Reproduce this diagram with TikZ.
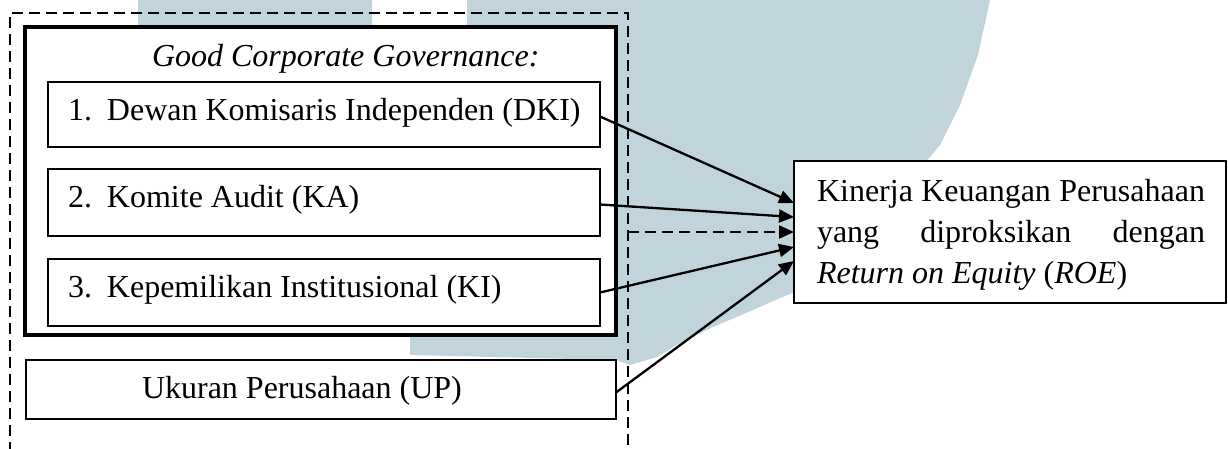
\documentclass[tikz,border=0pt]{standalone}
\usepackage{fontspec}
\setmainfont{Liberation Serif}
\usetikzlibrary{arrows.meta,calc}
\definecolor{wm}{RGB}{194,212,219}
\begin{document}
\begin{tikzpicture}[x=1pt,y=-1pt,
  every node/.style={font=\fontsize{32}{41}\selectfont, inner sep=0pt, outer sep=0pt},
  thinbox/.style={draw, line width=1.7pt, fill=white, rectangle, anchor=north west},
  thickbox/.style={draw, line width=4.5pt, fill=white, rectangle, anchor=north west},
  outerbox/.style={draw, line width=2.1pt, dash pattern=on 11pt off 6pt, rectangle, anchor=north west},
  txt/.style={anchor=base west},
  arr/.style={line width=2.3pt, -{Triangle[length=15pt,width=13pt]}},
  darr/.style={arr, dash pattern=on 11pt off 6pt}]
\useasboundingbox (0,0) rectangle (1228,448);
% watermark
\fill[wm] (138,0) -- (372,0) -- (372,30) -- (467,30) -- (467,0) -- (990,0) -- (978,55)
  -- (960,105) -- (940,145) -- (915,175) -- (800,290) -- (780,298) -- (753,310)
  -- (713,327) -- (680,343) -- (657,357) -- (630,365) -- (616,360) -- (410,355)
  -- (410,300) -- (138,300) -- cycle;
% boxes
\node[outerbox, minimum width=618pt, minimum height=460pt] (outer) at (10,13) {};
\node[thickbox, minimum width=591pt, minimum height=308pt] (gcg) at (25,27) {};
\node[txt] (gcgt) at (152,66) {\textit{Good Corporate Governance:}};
\node[thinbox, minimum width=552pt, minimum height=65pt] (dki) at (48,82) {};
\node[thinbox, minimum width=552pt, minimum height=67pt] (ka) at (48,169) {};
\node[thinbox, minimum width=552pt, minimum height=67pt] (ki) at (48,259) {};
\node[txt] (dkit) at (68,120) {\makebox[39pt][l]{1.}Dewan Komisaris Independen (DKI)};
\node[txt] (kat) at (68,207) {\makebox[39pt][l]{2.}Komite Audit (KA)};
\node[txt] (kit) at (68,297) {\makebox[39pt][l]{3.}Kepemilikan Institusional (KI)};
\node[thinbox, minimum width=590pt, minimum height=59pt] (up) at (26,360) {};
\node[txt] (upt) at (142,398) {Ukuran Perusahaan (UP)};
\node[thinbox, minimum width=432pt, minimum height=142pt] (roe) at (794,161) {};
\node[txt] (roe1) at (817,201) {\hbox to 388pt{Kinerja Keuangan Perusahaan}};
\node[txt] (roe2) at (817,242) {\hbox to 388pt{yang\hfill diproksikan\hfill dengan}};
\node[txt] (roe3) at (817,283) {\textit{Return on Equity} (\textit{ROE})};
% connectors
\draw[arr] ($(dki.east)+(0,2)$) -- ($(roe.west)+(0,-29)$);
\draw[arr] ($(ka.east)+(0,2)$) -- ($(roe.west)+(0,-15)$);
\draw[darr] (outer.east |- roe.west) -- (roe.west);
\draw[arr] (ki.east) -- ($(roe.west)+(0,15)$);
\draw[arr] ($(up.east)+(0,3)$) -- ($(roe.west)+(0,29)$);
\end{tikzpicture}
\end{document}
